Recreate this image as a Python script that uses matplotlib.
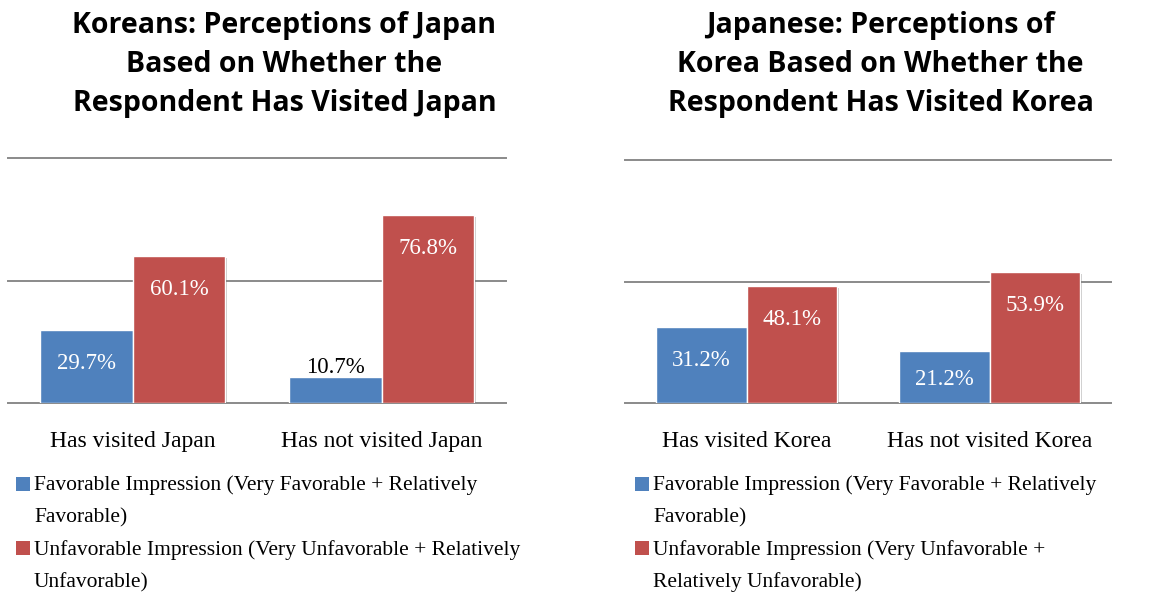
import matplotlib
matplotlib.use("Agg")
import matplotlib.pyplot as plt
import matplotlib.patheffects as pe
from matplotlib.patches import Rectangle
import numpy as np

W, H = 1150, 592

# data
left_title = "Koreans: Perceptions of Japan\nBased on Whether the\nRespondent Has Visited Japan"
right_title = "Japanese: Perceptions of\nKorea Based on Whether the\nRespondent Has Visited Korea"
left_cats = ["Has visited Japan", "Has not visited Japan"]
right_cats = ["Has visited Korea", "Has not visited Korea"]
left_fav = [29.7, 10.7]
left_unfav = [60.1, 76.8]
right_fav = [31.2, 21.2]
right_unfav = [48.1, 53.9]
left_legend = ["Favorable Impression (Very Favorable + Relatively\nFavorable)",
               "Unfavorable Impression (Very Unfavorable + Relatively\nUnfavorable)"]
right_legend = ["Favorable Impression (Very Favorable + Relatively\nFavorable)",
                "Unfavorable Impression (Very Unfavorable +\nRelatively Unfavorable)"]
gridlines = [0, 50, 100]

BLUE = "#4F81BD"
RED = "#C0504D"
GRID = "#8a8a8a"
SERIF = "Liberation Serif"
SANS = "Open Sans"

fig = plt.figure(figsize=(W / 100, H / 100), dpi=100)


def px_box(x0, x1, ytop, ybot):
    return [x0 / W, 1 - ybot / H, (x1 - x0) / W, (ybot - ytop) / H]


def draw_panel(box, cats, fav, unfav, title, title_x, legend, leg_x):
    ax = fig.add_axes(box)
    x = np.arange(len(cats))
    bw = 0.373
    shadow = [pe.SimplePatchShadow(offset=(1.5, -1.5), shadow_rgbFace="#000000", alpha=0.22), pe.Normal()]
    b1 = ax.bar(x - bw / 2, fav, bw, color=BLUE, edgecolor="white", linewidth=1.0, zorder=3)
    b2 = ax.bar(x + bw / 2, unfav, bw, color=RED, edgecolor="white", linewidth=1.0, zorder=3)
    for b in list(b1) + list(b2):
        b.set_path_effects(shadow)

    for g in gridlines:
        ax.axhline(g, color=GRID, lw=1.4, zorder=1, clip_on=False)

    ax.set_xlim(-0.5, len(cats) - 0.5)
    ax.set_ylim(0, 100)
    ax.set_yticks([])
    ax.set_xticks(x)
    ax.set_xticklabels(cats, fontsize=17, family=SERIF)
    ax.tick_params(axis="x", length=0, pad=20)
    for s in ax.spines.values():
        s.set_visible(False)

    # data labels
    pt_per_unit = ax.get_position().height * H / 100 * 0.72
    for xs, vals in ((x - bw / 2, fav), (x + bw / 2, unfav)):
        for xi, v in zip(xs, vals):
            if v < 15:
                ax.annotate(f"{v}%", (xi, v), xytext=(0, 7), textcoords="offset points",
                            ha="center", va="center", fontsize=16.5, family=SERIF, color="black")
            else:
                off = min(24, v * pt_per_unit / 2 + 1.5)
                ax.annotate(f"{v}%", (xi, v), xytext=(0, -off), textcoords="offset points",
                            ha="center", va="center", fontsize=16.5, family=SERIF, color="white")

    # title, one line at a time
    for i, line in enumerate(title.split("\n")):
        fig.text(title_x / W, 1 - (33.5 + i * 38.7) / H, line, ha="center", va="baseline",
                 fontsize=20.5, fontweight="bold", family=SANS)

    # legend
    colors = [BLUE, RED]
    row = 0
    for c, lab in zip(colors, legend):
        base = 490 + row * 32.4
        fig.patches.append(Rectangle(((leg_x - 18) / W, 1 - (base + 0.5) / H), 14 / W, 14 / H,
                                     transform=fig.transFigure, facecolor=c, edgecolor="none"))
        for line in lab.split("\n"):
            base = 490 + row * 32.4
            fig.text(leg_x / W, 1 - base / H, line, ha="left", va="baseline",
                     fontsize=15.5, family=SERIF)
            row += 1
    return ax


draw_panel(px_box(8, 506, 158, 403), left_cats, left_fav, left_unfav, left_title, 284.5, left_legend, 34)
draw_panel(px_box(625, 1111, 160, 403), right_cats, right_fav, right_unfav, right_title, 880.5, right_legend, 653)

fig.savefig("out.png", dpi=100, facecolor="white")
